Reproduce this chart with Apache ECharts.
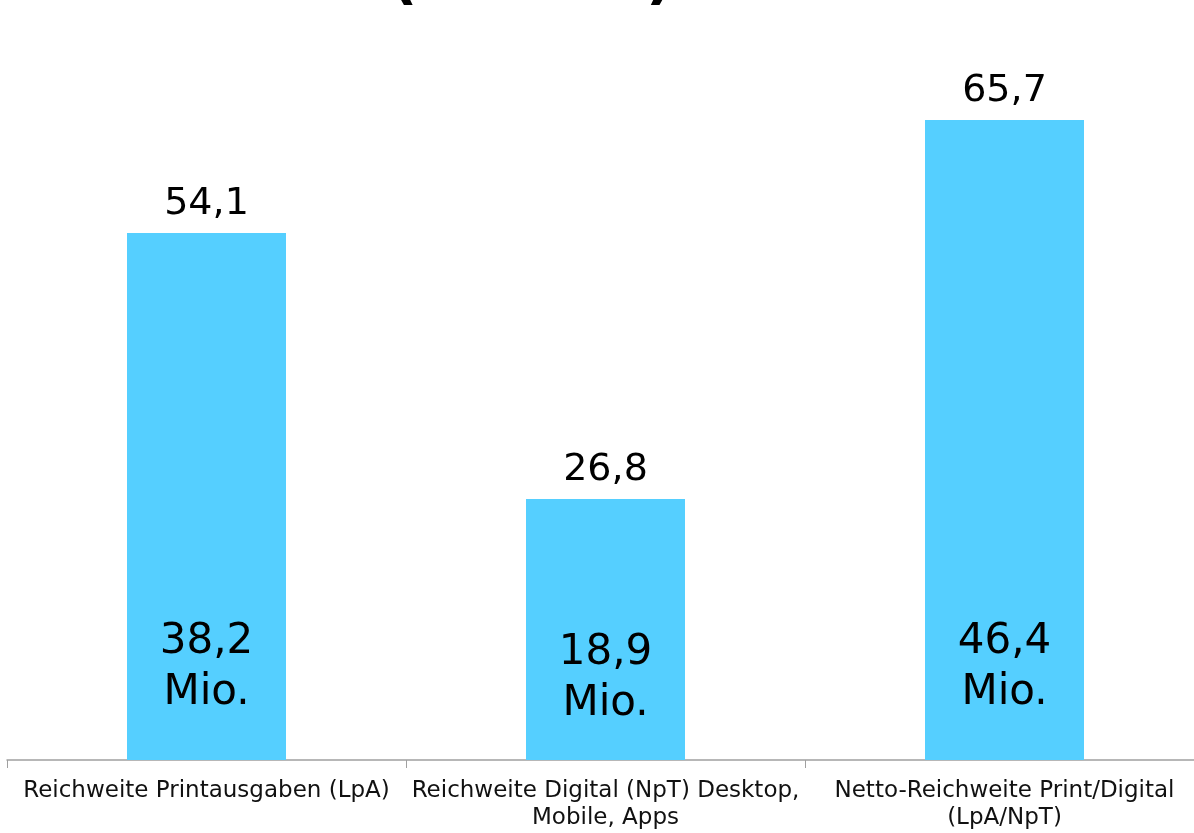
<!DOCTYPE html>
<html>
<head>
<meta charset="utf-8">
<script src="https://cdn.jsdelivr.net/npm/echarts@6/dist/echarts.min.js"></script>
<style>html,body{margin:0;padding:0;background:#fff}#c{width:1194px;height:833px}</style>
</head>
<body>
<div id="c"></div>
<script>
const categories = [
  'Reichweite Printausgaben (LpA)',
  'Reichweite Digital (NpT) Desktop,\nMobile, Apps',
  'Netto-Reichweite Print/Digital\n(LpA/NpT)'
];
const reachValues = [54.1, 26.8, 65.7];
const innerValues = [38.2, 18.9, 46.4];
const innerUnit = 'Mio.';
const titleText = '(in Mio.)';

const fmt = v => v.toFixed(1).replace('.', ',');
const FONT = '"DejaVu Sans", Verdana, sans-serif';

const chart = echarts.init(document.getElementById('c'));
chart.setOption({
  animation: false,
  title: {
    text: titleText,
    left: 385,
    top: -54,
    textStyle: { fontFamily: FONT, fontSize: 60, fontWeight: 'bold', color: '#000' }
  },
  grid: { left: 7, width: 1197, top: 78, bottom: 73, containLabel: false, outerBoundsMode: 'none' },
  xAxis: {
    type: 'category',
    data: categories,
    axisLine: { lineStyle: { color: '#a0a0a0', width: 1.5 } },
    axisTick: { show: true, length: 8, lineStyle: { color: '#a0a0a0' } },
    axisLabel: { fontFamily: FONT, fontSize: 23, color: '#111', lineHeight: 27, margin: 18, interval: 0 }
  },
  yAxis: { type: 'value', min: 0, max: 70, show: false, splitLine: { show: false } },
  series: [
    {
      type: 'bar',
      barWidth: 159,
      itemStyle: { color: '#55CFFF' },
      data: reachValues.map((v, i) => ({
        value: v,
        label: {
          show: true,
          position: 'insideBottom',
          distance: i === 1 ? 30 : 41,
          formatter: () => fmt(innerValues[i]) + '\n' + innerUnit,
          fontFamily: FONT, fontSize: 42, lineHeight: 51, color: '#000'
        }
      }))
    },
    {
      type: 'bar',
      barWidth: 159,
      barGap: '-100%',
      itemStyle: { color: 'rgba(0,0,0,0)' },
      silent: true,
      data: reachValues,
      label: {
        show: true,
        position: 'top',
        distance: 10,
        formatter: p => fmt(p.value),
        fontFamily: FONT, fontSize: 38, color: '#000'
      }
    }
  ]
});
</script>
</body>
</html>
